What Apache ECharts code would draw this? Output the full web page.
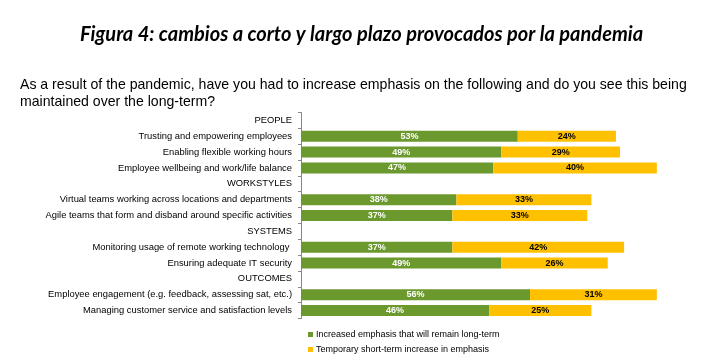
<!DOCTYPE html>
<html><head><meta charset="utf-8">
<script src="https://cdn.jsdelivr.net/npm/echarts@6/dist/echarts.min.js"></script>
<style>html,body{margin:0;padding:0;background:#fff}#c{width:723px;height:364px}</style>
</head><body><div id="c"></div>
<script>
const categories = ['PEOPLE','Trusting and empowering employees','Enabling flexible working hours','Employee wellbeing and work/life balance','WORKSTYLES','Virtual teams working across locations and departments','Agile teams that form and disband around specific activities','SYSTEMS','Monitoring usage of remote working technology ','Ensuring adequate IT security','OUTCOMES','Employee engagement (e.g. feedback, assessing sat, etc.)','Managing customer service and satisfaction levels'];
const longTerm = [null,53,49,47,null,38,37,null,37,49,null,56,46];
const shortTerm = [null,24,29,40,null,33,33,null,42,26,null,31,25];
const seriesNames = ['Increased emphasis that will remain long-term','Temporary short-term increase in emphasis'];
const titleText = 'Figura 4: cambios a corto y largo plazo provocados por la pandemia';
const questionText = 'As a result of the pandemic, have you had to increase emphasis on the following and do you see this being\nmaintained over the long-term?';

const chart = echarts.init(document.getElementById('c'));
const lbl = (color) => ({show:true, position:'inside', formatter: p => p.value==null?'':p.value+'%', color, fontSize:9, fontWeight:'bold', fontFamily:'Liberation Sans, Arial, sans-serif'});
chart.setOption({
  animation:false,
  title:[
    {text:titleText, left:'center', top:20, textStyle:{fontFamily:'Lato', fontStyle:'italic', fontWeight:'bold', fontSize:20, color:'#000'}},
    {text:questionText, left:15, top:72, textStyle:{fontFamily:'Liberation Sans, Arial', fontWeight:'normal', fontSize:14.1, lineHeight:17, color:'#000'}}
  ],
  legend:{orient:'vertical', left:303, top:325, itemWidth:5, itemHeight:5, itemGap:6, icon:'rect',
    textStyle:{fontSize:9, fontFamily:'Liberation Sans, Arial', color:'#000', padding:[0,0,0,-2]}, data:seriesNames},
  grid:{left:301, top:112.5, height:206, width:409, containLabel:false},
  xAxis:{type:'value', min:0, max:100, show:false},
  yAxis:{type:'category', data:categories, inverse:true,
    axisLine:{show:true, lineStyle:{color:'#888', width:1}},
    axisTick:{show:true, length:3, lineStyle:{color:'#888'}},
    axisLabel:{fontSize:9.4, color:'#000', margin:9, fontFamily:'Liberation Sans, Arial', interval:0}},
  series:[
    {name:seriesNames[0], type:'bar', stack:'a', data:longTerm, barWidth:11, itemStyle:{color:'#6B992E'}, label:lbl('#fff')},
    {name:seriesNames[1], type:'bar', stack:'a', data:shortTerm, barWidth:11, itemStyle:{color:'#FFC000'}, label:lbl('#000')}
  ]
});
</script></body></html>
